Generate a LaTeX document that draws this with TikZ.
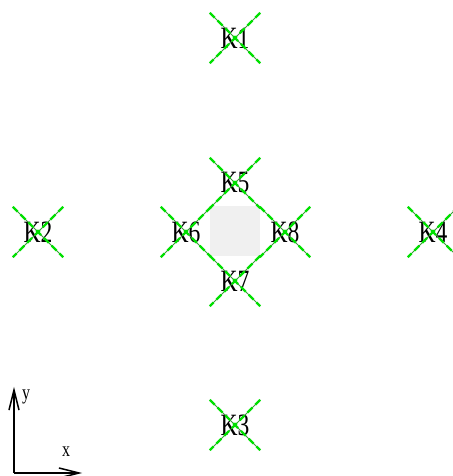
\documentclass[tikz,border=0pt]{standalone}
\usepackage{fontspec}
\setmainfont{Liberation Serif}
\usepackage{graphicx}
\usetikzlibrary{arrows.meta, positioning}
\definecolor{crossgreen}{HTML}{00E000}
\definecolor{crossdark}{HTML}{3A9A3A}
\definecolor{padgrey}{HTML}{F0F0F0}
\newcommand{\narrowtext}[1]{\scalebox{0.76}[1]{#1}}
\tikzset{
  keynode/.style={rectangle, minimum width=50pt, minimum height=50pt,
                  inner sep=0pt, font=\fontsize{31}{31}\selectfont},
  padbox/.style={rectangle, fill=padgrey, minimum size=50pt, inner sep=0pt},
  crossline/.style={draw=crossdark, line width=0.8pt},
  crossdash/.style={draw=crossgreen, line width=2.4pt, dash pattern=on 7pt off 4pt},
  axisline/.style={draw=black, line width=1.5pt, -{Straight Barb[length=20pt,width=10pt]}},
  axislabel/.style={font=\fontsize{21}{21}\selectfont, inner sep=0pt},
}

\begin{document}
\begin{tikzpicture}[x=1pt, y=1pt]
  \useasboundingbox (0,0) rectangle (452,476);

  % --- centre pad ---
  \node[padbox] (pad) at (235,245) {};

  % --- key points ---
  \node[keynode] (K1) at (235,438) {\narrowtext{K1}};
  \node[keynode] (K2) at (38,244)  {\narrowtext{K2}};
  \node[keynode] (K3) at (235,51)  {\narrowtext{K3}};
  \node[keynode] (K4) at (433,244) {\narrowtext{K4}};
  \node[keynode] (K5) at (235,293) {\narrowtext{K5}};
  \node[keynode] (K6) at (186,244) {\narrowtext{K6}};
  \node[keynode] (K7) at (235,195) {\narrowtext{K7}};
  \node[keynode] (K8) at (285,244) {\narrowtext{K8}};

  % crosses over every key point
  \foreach \k in {K1,K2,K3,K4,K5,K6,K7,K8} {
    \draw[crossline] (\k.north west) -- (\k.south east)
                     (\k.north east) -- (\k.south west);
    \draw[crossdash] (\k.north west) -- (\k.south east)
                     (\k.north east) -- (\k.south west);
  }

  % --- axes ---
  \coordinate (origin) at (14,3);
  \coordinate (xtip) at (82,3);
  \coordinate (ytip) at (14,89);
  \draw[axisline] (origin) -- (xtip);
  \draw[axisline] (origin) -- (ytip);
  \node[axislabel] (xlab) at (66,24) {\narrowtext{x}};
  \node[axislabel] (ylab) at (26,79) {\narrowtext{y}};
\end{tikzpicture}
\end{document}
